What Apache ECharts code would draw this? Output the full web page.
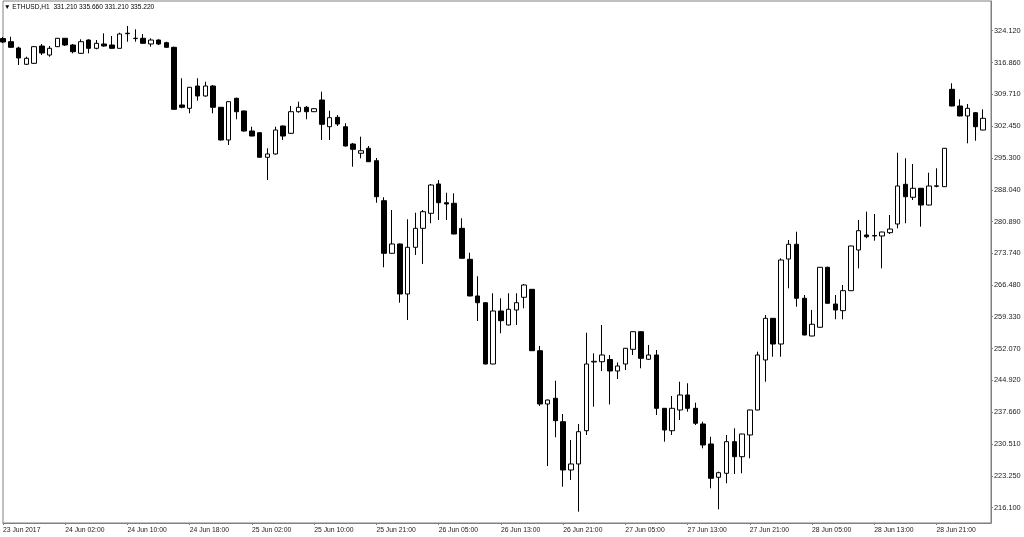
<!DOCTYPE html>
<html>
<head>
<meta charset="utf-8">
<script src="https://cdn.jsdelivr.net/npm/echarts@6/dist/echarts.min.js"></script>
<style>
html,body{margin:0;padding:0;background:#fff;}
#c{width:1024px;height:537px;}
</style>
</head>
<body>
<div id="c"></div>
<script>
// ETHUSD H1 bars (index 0 = 23 Jun 2017 18:00)
const opens = [322.35,321.63,320.20,316.51,316.73,320.65,318.61,320.50,322.40,320.88,
319.00,322.01,320.13,321.11,320.88,320.13,323.44,322.33,322.40,321.11,
322.01,321.40,320.36,307.29,306.54,311.59,309.33,311.59,306.77,299.36,
308.81,305.93,301.40,301.01,295.44,296.19,302.53,300.88,305.77,306.77,
305.77,308.42,302.37,304.50,302.37,298.45,296.35,297.48,294.67,285.61,
273.69,275.80,264.47,275.05,279.35,282.75,289.39,285.15,285.02,279.35,
272.33,264.02,262.50,248.61,260.62,257.45,260.85,263.72,265.53,251.62,
239.55,240.84,235.54,224.60,225.96,233.50,249.06,249.13,249.63,247.03,
248.61,251.94,255.93,249.68,250.65,238.57,233.50,238.19,241.59,238.57,
235.02,230.49,222.94,223.85,231.01,227.61,232.53,238.19,249.52,258.96,
253.14,272.40,275.73,263.50,254.95,256.93,270.52,262.20,260.69,265.22,
274.44,277.84,277.72,277.61,278.36,280.33,289.32,286.38,288.42,284.63,
288.87,288.78,310.84,307.06,304.80,305.54,301.62];
const highs = [322.69,322.76,320.50,318.23,320.65,321.11,320.65,322.47,322.47,321.11,
322.17,322.17,322.01,323.53,322.92,323.67,325.19,324.44,323.37,322.40,
322.17,321.63,320.50,313.34,311.37,313.34,312.57,311.82,306.83,308.13,
308.94,306.04,302.37,301.17,297.48,302.37,302.64,307.06,308.04,307.06,
306.54,310.30,306.00,305.02,303.14,298.68,300.11,298.00,295.28,286.38,
283.50,275.91,281.39,282.89,283.50,289.39,290.30,287.42,287.28,281.62,
273.83,268.48,262.57,264.63,263.50,264.63,264.63,266.74,265.60,252.69,
240.56,244.83,237.28,231.39,235.02,255.70,251.03,257.45,250.65,248.95,
252.24,255.97,256.00,252.92,251.78,238.64,241.36,244.60,244.24,239.84,
235.54,232.14,224.21,232.53,234.04,232.82,238.26,251.40,259.71,259.03,
272.56,276.70,278.58,264.24,260.85,270.59,270.66,264.24,266.51,275.41,
281.23,283.11,282.59,278.58,282.37,296.48,295.21,293.92,288.48,291.95,
292.95,297.55,312.20,308.58,307.51,305.70,306.31];
const lows = [321.33,320.20,316.35,316.35,316.58,318.61,318.23,320.43,320.65,319.00,
318.84,319.00,319.91,320.50,320.09,320.09,321.63,321.63,321.11,320.50,
320.88,320.30,306.25,306.54,305.41,308.26,309.17,305.41,299.25,298.23,
304.05,301.28,300.20,295.39,290.30,296.07,299.36,300.72,305.54,304.05,
305.70,299.36,299.36,302.53,297.89,293.31,295.21,294.37,285.15,270.52,
273.62,262.50,258.58,273.31,271.27,280.49,281.23,281.23,277.99,272.49,
263.95,258.35,248.54,248.54,255.57,257.38,257.45,261.23,251.56,239.10,
225.50,232.01,220.81,222.33,215.15,232.53,238.94,247.03,239.44,245.21,
247.25,250.65,247.64,249.52,237.06,231.01,232.53,235.92,237.80,234.79,
229.51,220.45,215.69,221.58,223.69,223.85,227.25,238.12,244.60,250.27,
250.27,265.76,261.59,255.11,254.89,256.86,262.30,258.74,258.74,265.15,
270.29,277.09,276.54,270.29,278.06,279.35,280.49,285.77,279.72,284.56,
288.64,288.71,306.99,304.73,298.61,299.20,301.56];
const closes = [321.56,320.36,317.94,317.87,320.50,319.07,320.13,322.40,320.88,319.36,
321.63,320.13,321.27,320.65,320.13,323.37,323.55,322.42,321.27,322.01,
321.11,320.36,306.31,306.77,311.30,309.33,311.59,306.77,299.36,308.04,
305.77,301.40,300.26,295.44,296.19,301.62,300.26,305.77,306.77,305.77,
306.45,302.92,304.41,302.98,298.00,297.25,296.93,294.44,286.51,273.69,
275.80,264.47,275.05,279.35,283.11,289.16,285.15,284.86,278.06,272.56,
264.02,262.50,248.61,260.62,258.42,261.00,262.50,266.51,251.62,239.55,
240.45,235.77,224.60,225.96,233.27,248.61,249.22,250.65,247.03,248.16,
252.17,255.93,249.90,250.65,238.57,233.66,238.57,241.59,238.57,235.18,
230.26,222.72,223.98,231.01,227.61,232.75,238.19,250.65,258.96,253.14,
272.17,275.73,263.50,255.18,257.61,270.52,262.36,260.85,265.22,275.34,
278.81,277.45,277.61,278.51,279.19,288.94,286.51,288.42,284.63,288.94,
288.98,297.48,307.06,304.80,306.54,302.37,304.27];

const xTickLabels = ['23 Jun 2017','24 Jun 02:00','24 Jun 10:00','24 Jun 18:00','25 Jun 02:00',
'25 Jun 10:00','25 Jun 21:00','26 Jun 05:00','26 Jun 13:00','26 Jun 21:00','27 Jun 05:00',
'27 Jun 13:00','27 Jun 21:00','28 Jun 05:00','28 Jun 13:00','28 Jun 21:00'];
const xTickStep = 8;
const yTickLabels = [216.100,223.250,230.510,237.660,244.920,252.070,259.330,266.480,
273.740,280.890,288.040,295.300,302.450,309.710,316.860,324.120];
const headerText = '\u25BC ETHUSD,H1  331.210 335.660 331.210 335.220';

// one empty slot after the last bar (chart shift)
const categories = opens.map((_, i) => String(i)).concat(['']);
const candleData = opens.map((o, i) => [o, closes[i], lows[i], highs[i]]);

const chart = echarts.init(document.getElementById('c'), null, {renderer: 'canvas'});
const FONT = 'Liberation Sans';
const showTick = (idx) => idx % xTickStep === 0 && idx / xTickStep < xTickLabels.length;
chart.setOption({
  animation: false,
  backgroundColor: '#ffffff',
  title: {
    text: headerText, left: 4, top: 4, padding: 0,
    textStyle: {fontSize: 6.6, fontWeight: 'normal', color: '#000', fontFamily: FONT}
  },
  grid: {left: 2, right: 33, top: 1, bottom: 14, show: true, borderColor: '#808080', borderWidth: 1, backgroundColor: '#fff'},
  xAxis: {
    type: 'category', data: categories, boundaryGap: false,
    axisLine: {show: true, lineStyle: {color: '#808080', width: 1}},
    axisTick: {show: true, inside: false, length: 2, interval: showTick, lineStyle: {color: '#808080'}},
    axisLabel: {
      interval: showTick, align: 'left', margin: 4, fontSize: 6.8, color: '#222', fontFamily: FONT,
      formatter: (v, idx) => (showTick(idx) ? xTickLabels[idx / xTickStep] : '')
    },
    splitLine: {show: false}
  },
  yAxis: {
    type: 'value', position: 'right', min: 212.588, max: 330.849,
    axisLine: {show: true, lineStyle: {color: '#808080'}},
    axisTick: {show: true, inside: false, length: 2, customValues: yTickLabels, lineStyle: {color: '#808080'}},
    axisLabel: {
      customValues: yTickLabels, margin: 3, fontSize: 7.4, color: '#222', fontFamily: FONT, align: 'left',
      formatter: (v) => Number(v).toFixed(3)
    },
    splitLine: {show: false}
  },
  series: [{
    type: 'candlestick', data: candleData, barWidth: 5, clip: false,
    itemStyle: {color: '#ffffff', color0: '#000000', borderColor: '#000000', borderColor0: '#000000', borderWidth: 1}
  }]
});
</script>
</body>
</html>
